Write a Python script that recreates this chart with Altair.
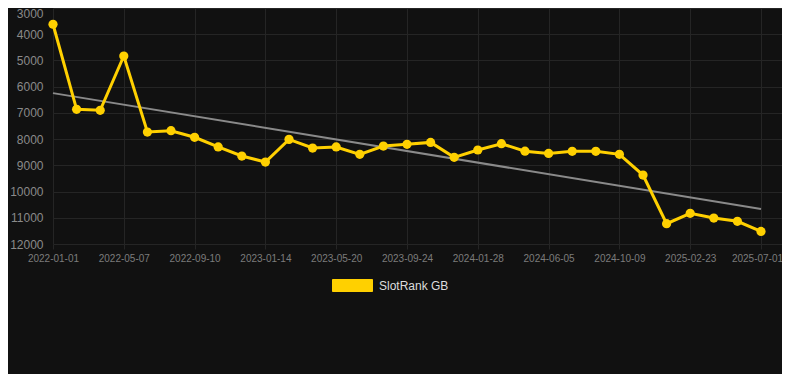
import altair as alt
import pandas as pd

dates = [
    "2022-01-01", "2022-02-12", "2022-03-26", "2022-05-07", "2022-06-18",
    "2022-07-30", "2022-09-10", "2022-10-22", "2022-12-03", "2023-01-14",
    "2023-02-25", "2023-04-08", "2023-05-20", "2023-07-01", "2023-08-12",
    "2023-09-24", "2023-11-05", "2023-12-17", "2024-01-28", "2024-03-10",
    "2024-04-22", "2024-06-05", "2024-07-17", "2024-08-28", "2024-10-09",
    "2024-11-24", "2025-01-08", "2025-02-23", "2025-04-06", "2025-05-18",
    "2025-07-01",
]
ranks = [
    3620, 6865, 6900, 4830, 7730, 7680, 7930, 8300, 8645, 8875,
    8010, 8340, 8300, 8580, 8265, 8200, 8125, 8695, 8415, 8175,
    8460, 8545, 8465, 8465, 8580, 9370, 11225, 10830, 11010, 11135,
    11520,
]
series_name = "SlotRank GB"
y_ticks = [3000, 4000, 5000, 6000, 7000, 8000, 9000, 10000, 11000, 12000]
x_tick_idx = list(range(0, 31, 3))

df = pd.DataFrame({"idx": list(range(len(dates))), "date": dates, "rank": ranks,
                   "series": [series_name] * len(dates)})

label_arr = "[" + ",".join("'" + d + "'" for d in dates) + "]"

GOLD = "#FFD000"
GRID = "#252525"

x_enc = alt.X(
    "idx:Q",
    scale=alt.Scale(domain=[0, 30.89], nice=False, zero=False),
    axis=alt.Axis(
        values=x_tick_idx, labelExpr=label_arr + "[datum.value]", title=None,
        grid=True, gridColor=GRID, domain=False, tickColor=GRID, tickSize=5,
        labelColor="#7c7c7c", labelFontSize=10, labelPadding=4,
        labelFont="Liberation Sans", labelOverlap=False, labelFlush=False,
        labelBound=False,
        labelOffset={"expr": "datum.value == 30 ? -4 : 0"},
    ),
)
y_enc = alt.Y(
    "rank:Q",
    scale=alt.Scale(domain=[3000, 12000], reverse=True, nice=False, zero=False),
    axis=alt.Axis(
        values=y_ticks, format="d", title=None, grid=True, gridColor=GRID,
        domain=False, ticks=False, labelColor="#8a8a8a", labelFontSize=12,
        labelPadding=10, labelFont="Liberation Sans",
        labelBaseline={"expr": "datum.value == 3000 ? 'top' : 'middle'"},
    ),
)

base = alt.Chart(df)

trend = base.transform_regression("idx", "rank").mark_line(
    color="#8a8a8a", strokeWidth=2
).encode(x=x_enc, y=y_enc)

line = base.mark_line(color=GOLD, strokeWidth=3).encode(x=x_enc, y=y_enc)

points = base.mark_point(filled=True, size=85, opacity=1).encode(
    x=x_enc, y=y_enc,
    color=alt.Color(
        "series:N",
        scale=alt.Scale(domain=[series_name], range=[GOLD]),
        legend=alt.Legend(
            title=None, orient="none", legendX=279, legendY=257,
            symbolType="M-1,-0.3H1V0.3H-1Z", symbolSize=1600,
            symbolFillColor=GOLD, symbolStrokeColor=GOLD, symbolStrokeWidth=1,
            labelColor="#dddddd", labelFontSize=12, labelFont="Liberation Sans",
            labelOffset=6, padding=0,
        ),
    ),
)

chart = alt.layer(trend, line, points).properties(
    width=729, height=236,
    background="#111111",
    autosize=alt.AutoSizeParams(type="none"),
    padding={"left": 45, "top": 0, "right": 0, "bottom": 130},
).configure_view(stroke=None)

chart.save("out.html", embed_options={"renderer": "svg", "actions": False})
